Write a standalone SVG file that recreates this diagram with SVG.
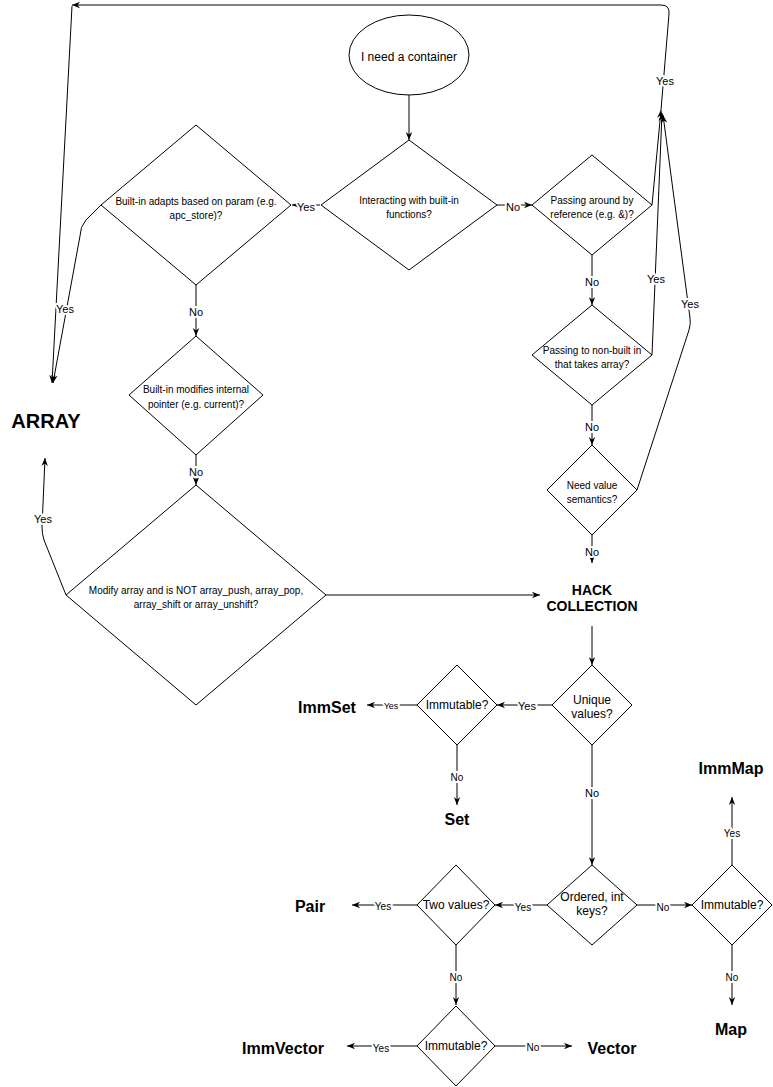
<svg xmlns="http://www.w3.org/2000/svg" width="773" height="1087" viewBox="0 0 773 1087">
<defs>
<style>
text{font-family:"Liberation Sans",Arial,Helvetica,sans-serif;fill:#000;text-anchor:middle}
.shape{fill:#fff;stroke:#000;stroke-width:1}
.edge{fill:none;stroke:#000;stroke-width:1;marker-end:url(#arr)}
.line{fill:none;stroke:#000;stroke-width:1}
.t10{font-size:10px}
.t12{font-size:12px}
.leaf{font-size:16px;font-weight:bold}
.lbl{font-size:11px;paint-order:stroke;stroke:#fff;stroke-width:4px;stroke-linejoin:round}
.lbs{font-size:10px;paint-order:stroke;stroke:#fff;stroke-width:4px;stroke-linejoin:round}
</style>
<marker id="arr" viewBox="0 0 10 10" refX="10" refY="5" markerWidth="8" markerHeight="8" markerUnits="userSpaceOnUse" orient="auto">
<path d="M0,1 L10,5 L0,9 L3,5 Z" fill="#000"/>
</marker>
</defs>

<g id="connectors">
<path class="edge" d="M409,95 L409,140"/>
<path class="edge" d="M320,205 L292,205"/>
<path class="edge" d="M497,205 L532,205"/>
<path class="edge" d="M592,255 L592,305"/>
<path class="edge" d="M592,405 L592,445"/>
<path class="edge" d="M592,535 L592,563"/>
<path class="edge" d="M652,205 L661,110"/>
<path class="edge" d="M652,355 L662,113"/>
<path class="edge" d="M637,490 L689,330 Q691,323 690,318 L663,115"/>
<path class="edge" d="M661,110 L669,14 Q670,5 661,5 L72,5"/>
<path class="edge" d="M72,6 L52,383"/>
<path class="edge" d="M101,205 L86,220 Q80,227 80,236 L53,383"/>
<path class="edge" d="M196,285 L196,336"/>
<path class="edge" d="M196,455 L196,485"/>
<path class="edge" d="M66,595 L44,540 Q42,534 42,527 L45,458"/>
<path class="edge" d="M326,595 L540,595"/>
<path class="edge" d="M592,626 L592,665"/>
<path class="edge" d="M552,705 L497,705"/>
<path class="edge" d="M417,705 L367,705"/>
<path class="edge" d="M457,745 L457,805"/>
<path class="edge" d="M592,745 L592,865"/>
<path class="edge" d="M547,905 L495,905"/>
<path class="edge" d="M417,905 L352,905"/>
<path class="edge" d="M456,945 L456,1005"/>
<path class="edge" d="M417,1046 L347,1046"/>
<path class="edge" d="M495,1046 L572,1046"/>
<path class="edge" d="M637,905 L692,905"/>
<path class="edge" d="M732,865 L732,797"/>
<path class="edge" d="M732,945 L732,1005"/>

<text class="lbl" x="306" y="211">Yes</text>
<text class="lbl" x="513" y="211">No</text>
<text class="lbl" x="592" y="286">No</text>
<text class="lbl" x="592" y="431">No</text>
<text class="lbl" x="592" y="556">No</text>
<text class="lbl" x="665" y="85">Yes</text>
<text class="lbl" x="656" y="283">Yes</text>
<text class="lbl" x="690" y="308">Yes</text>
<text class="lbl" x="65" y="313">Yes</text>
<text class="lbl" x="196" y="316">No</text>
<text class="lbl" x="196" y="476">No</text>
<text class="lbl" x="43" y="523">Yes</text>
<text class="lbl" x="527" y="710">Yes</text>
<text class="lbs" x="391" y="709" style="font-size:9px">Yes</text>
<text class="lbs" x="457" y="781">No</text>
<text class="lbl" x="592" y="797">No</text>
<text class="lbs" x="523" y="911">Yes</text>
<text class="lbs" x="383" y="910">Yes</text>
<text class="lbs" x="663" y="911">No</text>
<text class="lbs" x="732" y="837">Yes</text>
<text class="lbs" x="732" y="981">No</text>
<text class="lbs" x="456" y="981">No</text>
<text class="lbs" x="381" y="1052">Yes</text>
<text class="lbs" x="533" y="1051">No</text>
</g>

<g id="start">
<ellipse class="shape" cx="409" cy="55" rx="60" ry="40"/>
<text class="t12" x="409" y="61">I need a container</text>
</g>

<g id="interacting">
<path class="shape" d="M409,140 L497,205 L409,270 L321,205 Z"/>
<text class="t10" x="409" y="204">Interacting with built-in</text>
<text class="t10" x="409" y="218">functions?</text>
</g>

<g id="adapts">
<path class="shape" d="M196,125 L291,205 L196,285 L101,205 Z"/>
<text class="t10" x="196" y="205">Built-in adapts based on param (e.g.</text>
<text class="t10" x="196" y="219">apc_store)?</text>
</g>

<g id="modifies">
<path class="shape" d="M196,336 L263,395 L196,455 L129,395 Z"/>
<text class="t10" x="196" y="393">Built-in modifies internal</text>
<text class="t10" x="196" y="408">pointer (e.g. current)?</text>
</g>

<g id="modify">
<path class="shape" d="M196,485 L326,595 L196,705 L66,595 Z"/>
<text class="t10" x="196" y="594">Modify array and is NOT array_push, array_pop,</text>
<text class="t10" x="196" y="608">array_shift or array_unshift?</text>
</g>

<g id="byref">
<path class="shape" d="M592,155 L652,205 L592,255 L532,205 Z"/>
<text class="t10" x="592" y="204">Passing around by</text>
<text class="t10" x="592" y="218">reference (e.g. &amp;)?</text>
</g>

<g id="nonbuiltin">
<path class="shape" d="M592,305 L652,355 L592,405 L532,355 Z"/>
<text class="t10" x="592" y="354">Passing to non-built in</text>
<text class="t10" x="592" y="368">that takes array?</text>
</g>

<g id="valuesem">
<path class="shape" d="M592,445 L637,490 L592,535 L547,490 Z"/>
<text class="t10" x="592" y="489">Need value</text>
<text class="t10" x="592" y="503">semantics?</text>
</g>

<g id="array">
<text x="46" y="428" style="font-size:20px;font-weight:bold">ARRAY</text>
</g>

<g id="hack">
<text x="592" y="595" style="font-size:14px;font-weight:bold">HACK</text>
<text x="592" y="611" style="font-size:14px;font-weight:bold">COLLECTION</text>
</g>

<g id="unique">
<path class="shape" d="M592,665 L632,705 L592,745 L552,705 Z"/>
<text class="t12" x="592" y="704">Unique</text>
<text class="t12" x="592" y="718">values?</text>
</g>

<g id="immset-q">
<path class="shape" d="M457,665 L497,705 L457,745 L417,705 Z"/>
<text class="t12" x="457" y="709">Immutable?</text>
</g>

<g id="immset">
<text class="leaf" x="327" y="713">ImmSet</text>
</g>

<g id="set">
<text class="leaf" x="457" y="825">Set</text>
</g>

<g id="ordered">
<path class="shape" d="M592,865 L637,905 L592,945 L547,905 Z"/>
<text class="t12" x="592" y="901">Ordered, int</text>
<text class="t12" x="592" y="915">keys?</text>
</g>

<g id="twovalues">
<path class="shape" d="M456,865 L495,905 L456,945 L417,905 Z"/>
<text class="t12" x="456" y="909">Two values?</text>
</g>

<g id="pair">
<text class="leaf" x="310" y="912">Pair</text>
</g>

<g id="immvec-q">
<path class="shape" d="M456,1006 L495,1046 L456,1086 L417,1046 Z"/>
<text class="t12" x="456" y="1050">Immutable?</text>
</g>

<g id="immvector">
<text class="leaf" x="283" y="1054">ImmVector</text>
</g>

<g id="vector">
<text class="leaf" x="612" y="1054">Vector</text>
</g>

<g id="immmap-q">
<path class="shape" d="M732,865 L772,905 L732,945 L692,905 Z"/>
<text class="t12" x="732" y="909">Immutable?</text>
</g>

<g id="immmap">
<text class="leaf" x="731" y="774">ImmMap</text>
</g>

<g id="map">
<text class="leaf" x="731" y="1035">Map</text>
</g>
</svg>
